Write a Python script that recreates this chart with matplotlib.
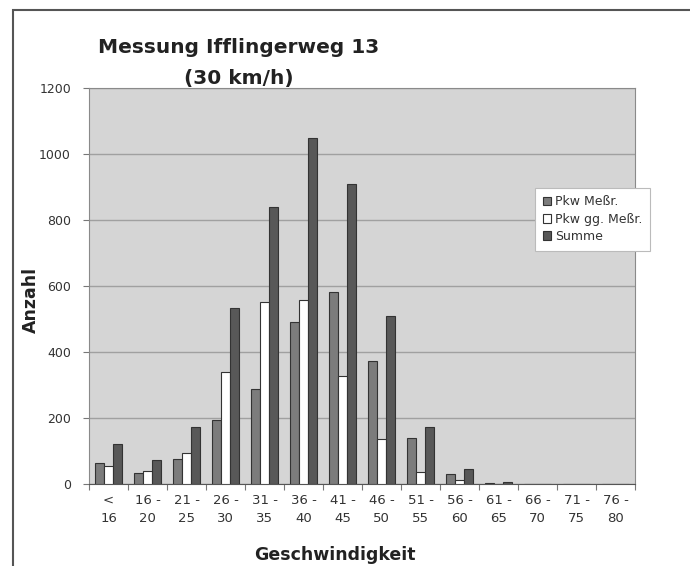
import numpy as np
import matplotlib.pyplot as plt
from matplotlib.patches import Rectangle

# Daten
kategorien = ['<\n16', '16 -\n20', '21 -\n25', '26 -\n30', '31 -\n35', '36 -\n40', '41 -\n45',
              '46 -\n50', '51 -\n55', '56 -\n60', '61 -\n65', '66 -\n70', '71 -\n75', '76 -\n80']
pkw_messr = [65, 33, 77, 193, 287, 492, 583, 372, 138, 30, 3, 1, 1, 1]
pkw_gg_messr = [55, 40, 95, 340, 553, 558, 327, 137, 35, 12, 1, 0, 0, 0]
summe = [120, 73, 172, 533, 840, 1050, 910, 508, 173, 45, 5, 1, 1, 1]

fig = plt.figure(figsize=(6.9, 5.66), dpi=100)

# Rahmen um das Diagramm
fig.patches.append(Rectangle((13 / 690, -0.1), 1.2, 1.1 - 10 / 566,
                             transform=fig.transFigure, fill=False,
                             edgecolor='#555555', linewidth=1.5))

ax = fig.add_axes([89 / 690, 82 / 566, 546 / 690, 396 / 566])
ax.set_facecolor('#d5d5d5')

x = np.arange(len(kategorien))
w = 0.23
ec = '#333333'
ax.bar(x - w, pkw_messr, w, color='#7c7c7c', edgecolor=ec, linewidth=0.8, label='Pkw Meßr.', zorder=3)
ax.bar(x, pkw_gg_messr, w, color='white', edgecolor=ec, linewidth=0.8, label='Pkw gg. Meßr.', zorder=3)
ax.bar(x + w, summe, w, color='#585858', edgecolor=ec, linewidth=0.8, label='Summe', zorder=3)

ax.set_xlim(-0.5, len(kategorien) - 0.5)
ax.set_ylim(0, 1200)
ax.set_yticks(range(0, 1201, 200))
ax.yaxis.grid(True, color='#a0a0a0', linewidth=1, zorder=1)
ax.set_axisbelow(True)

# Kategorie-Beschriftungen zwischen Teilstrichen
ax.set_xticks(np.arange(-0.5, len(kategorien), 1))
ax.set_xticklabels([])
ax.set_xticks(x, minor=True)
ax.set_xticklabels(kategorien, minor=True, fontsize=9.5, color='#333333', linespacing=1.55)
ax.tick_params(axis='x', which='minor', length=0, pad=7)
ax.tick_params(axis='x', which='major', length=4, color='#777777')
ax.tick_params(axis='y', length=4, color='#777777', labelsize=9, labelcolor='#333333', pad=9)

for s in ['top', 'right', 'left']:
    ax.spines[s].set_color('#8a8a8a')
ax.spines['bottom'].set_color('#555555')

fig.text(239 / 690, 1 - 63 / 566, 'Messung Ifflingerweg 13\n(30 km/h)', ha='center', va='center',
         fontsize=14.5, fontweight='bold', color='#222222', linespacing=1.8)
fig.text(31 / 690, 1 - 300 / 566, 'Anzahl', rotation=90, ha='center', va='center',
         fontsize=12.5, fontweight='bold', color='#222222')
fig.text(335 / 690, 1 - 555 / 566, 'Geschwindigkeit', ha='center', va='center',
         fontsize=12.5, fontweight='bold', color='#222222')

leg = fig.legend(loc='upper left', bbox_to_anchor=(535 / 690, 1 - 188 / 566),
                 fontsize=9, frameon=True, fancybox=False, framealpha=1,
                 handlelength=0.7, handleheight=0.7, handletextpad=0.3, borderaxespad=0,
                 labelspacing=0.35, borderpad=0.6)
leg.get_frame().set_edgecolor('#bbbbbb')
leg.get_frame().set_linewidth(0.8)
for t in leg.get_texts():
    t.set_color('#333333')

fig.savefig('out.png', dpi=100)
